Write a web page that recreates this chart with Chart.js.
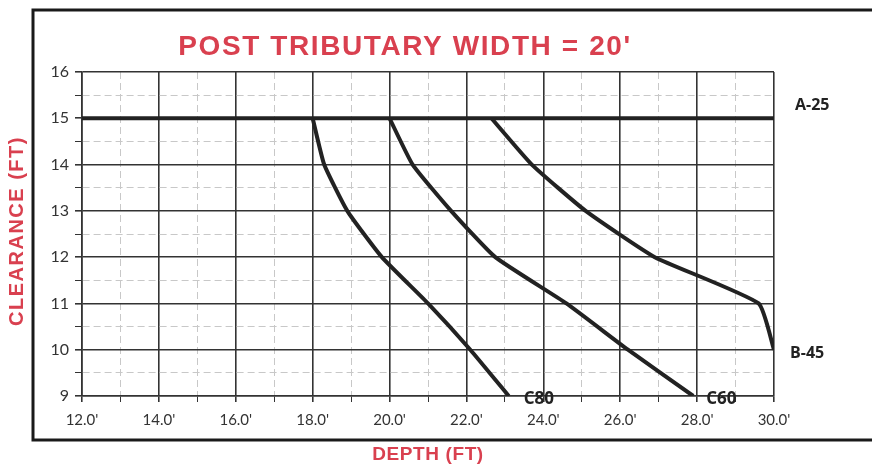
<!DOCTYPE html>
<html>
<head>
<meta charset="utf-8">
<script src="https://cdn.jsdelivr.net/npm/chart.js@4"></script>
<style>
  html, body { margin: 0; padding: 0; background: #fff; }
  #wrap { width: 872px; height: 466px; }
</style>
</head>
<body>
<div id="wrap"><canvas id="chart" width="872" height="466"></canvas></div>
<script>
// depth (ft) / clearance (ft) for each curve
const a25Depth = [12, 30];
const a25Clear = [15, 15];
const c80Depth = [18.0, 18.3, 18.9, 19.8, 21.0, 22.1, 23.1];
const c80Clear = [15, 14, 13, 12, 11, 10, 9];
const c60Depth = [20.0, 20.6, 21.6, 22.75, 24.6, 26.2, 27.9];
const c60Clear = [15, 14, 13, 12, 11, 10, 9];
const b45Depth = [22.65, 23.7, 25.1, 26.9, 29.6, 30.0];
const b45Clear = [15, 14, 13, 12, 11, 10];

const seriesNames = ["A-25", "C80", "C60", "B-45"];
const chartTitle = "POST TRIBUTARY WIDTH = 20'";
const xTitle = "DEPTH (FT)";
const yTitle = "CLEARANCE (FT)";

const red = "#d9404f";
const ink = "#222";

const toPoints = (xs, ys) => xs.map((x, i) => ({ x: x, y: ys[i] }));

const makeSet = (name, xs, ys) => ({
  label: name,
  data: toPoints(xs, ys),
  borderColor: ink,
  borderWidth: 4,
  pointRadius: 0,
  fill: false,
  tension: 0.15,
  borderJoinStyle: "round",
});

// label offsets next to the last point of each series
const labelOffsets = {
  "A-25": { dx: 21, dy: -13, size: 16 },
  "B-45": { dx: 16, dy: 4, size: 16 },
  "C80": { dx: 15, dy: 3, size: 17 },
  "C60": { dx: 13, dy: 3, size: 17 },
};

const decorations = {
  id: "decorations",
  beforeDraw(chart) {
    const c = chart.ctx;
    c.save();
    c.fillStyle = "#fff";
    c.fillRect(0, 0, chart.width, chart.height);
    c.strokeStyle = "#1a1a1a";
    c.lineWidth = 3;
    c.strokeRect(33, 10, 860, 430);
    c.restore();
  },
  afterDraw(chart) {
    const c = chart.ctx;
    const xs = chart.scales.x;
    const ys = chart.scales.y;
    const area = chart.chartArea;
    c.save();
    c.fillStyle = red;
    c.textAlign = "center";
    c.textBaseline = "middle";

    c.letterSpacing = "1.6px";
    c.font = "bold 28px 'Liberation Sans', Arial, sans-serif";
    c.fillText(chartTitle, 405, 47);

    c.letterSpacing = "0.6px";
    c.font = "bold 19px 'Liberation Sans', Arial, sans-serif";
    c.fillText(xTitle, (area.left + area.right) / 2, 455);

    c.letterSpacing = "1.5px";
    c.font = "bold 20px 'Liberation Sans', Arial, sans-serif";
    c.save();
    c.translate(17, 231);
    c.rotate(-Math.PI / 2);
    c.fillText(yTitle, 0, 0);
    c.restore();

    c.letterSpacing = "0px";
    c.fillStyle = ink;
    c.textAlign = "left";
    chart.data.datasets.forEach((ds) => {
      const last = ds.data[ds.data.length - 1];
      const o = labelOffsets[ds.label];
      c.font = "bold " + o.size + "px 'Open Sans', sans-serif";
      c.fillText(ds.label, xs.getPixelForValue(last.x) + o.dx, ys.getPixelForValue(last.y) + o.dy);
    });
    c.restore();
  },
};

const isMinorX = (v) => Math.abs(v % 2) > 0.001;
const isMinorY = (v) => Math.abs(v % 1) > 0.001;

new Chart(document.getElementById("chart"), {
  type: "line",
  data: {
    datasets: [
      makeSet(seriesNames[0], a25Depth, a25Clear),
      makeSet(seriesNames[1], c80Depth, c80Clear),
      makeSet(seriesNames[2], c60Depth, c60Clear),
      makeSet(seriesNames[3], b45Depth, b45Clear),
    ],
  },
  options: {
    responsive: false,
    animation: false,
    layout: { padding: { top: 72, right: 98, left: 0, bottom: 0 } },
    plugins: {
      legend: { display: false },
      tooltip: { enabled: false },
    },
    scales: {
      x: {
        type: "linear",
        min: 12,
        max: 30,
        afterFit: (s) => { s.height = 70; },
        ticks: {
          stepSize: 1,
          autoSkip: false,
          maxRotation: 0,
          color: "#333",
          padding: 9,
          font: { family: "Lato, 'Open Sans', sans-serif", size: 15 },
          callback: (v) => (isMinorX(v) ? "" : v.toFixed(1) + "'"),
        },
        grid: {
          color: (ctx) => (ctx.tick && isMinorX(ctx.tick.value) ? "#c8c8c8" : "#333"),
          lineWidth: (ctx) => (ctx.tick && isMinorX(ctx.tick.value) ? 1 : 1.6),
          tickColor: "#333",
          tickLength: 6,
        },
        border: {
          color: "#333",
          width: 1.6,
          dash: (ctx) => (ctx.tick && isMinorX(ctx.tick.value) ? [7, 4] : []),
        },
      },
      y: {
        type: "linear",
        min: 9,
        max: 16,
        afterFit: (s) => { s.width = 82; },
        ticks: {
          stepSize: 0.5,
          autoSkip: false,
          color: "#333",
          padding: 6,
          font: { family: "Lato, 'Open Sans', sans-serif", size: 16 },
          callback: (v) => (isMinorY(v) ? "" : String(v)),
        },
        grid: {
          color: (ctx) => (ctx.tick && isMinorY(ctx.tick.value) ? "#c8c8c8" : "#333"),
          lineWidth: (ctx) => (ctx.tick && isMinorY(ctx.tick.value) ? 1 : 1.6),
          tickColor: "#333",
          tickLength: 7,
        },
        border: {
          color: "#333",
          width: 1.6,
          dash: (ctx) => (ctx.tick && isMinorY(ctx.tick.value) ? [7, 4] : []),
        },
      },
    },
  },
  plugins: [decorations],
});
</script>
</body>
</html>
